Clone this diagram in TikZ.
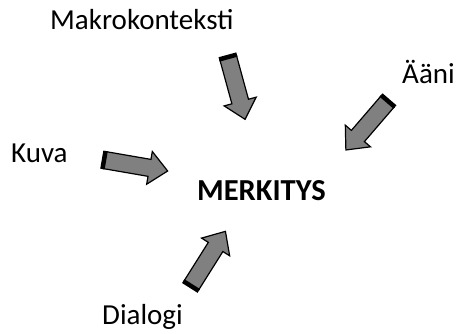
\documentclass[tikz,border=0pt]{standalone}
\usepackage{fontspec}
\setmainfont{Carlito}
\usetikzlibrary{shapes.arrows}
\begin{document}
\begin{tikzpicture}[x=1pt,y=-1pt,
  lbl/.style={inner sep=0pt, anchor=base west, font=\fontsize{29}{32}\selectfont},
  blockarrow/.style={single arrow, draw=black, line width=1.2pt, fill=gray,
    inner sep=8pt, minimum height=64pt, single arrow head extend=8pt,
    single arrow tip angle=84, anchor=tail},
  tailbar/.style={line width=4.5pt, black}]
\useasboundingbox (0,0) rectangle (462,333);
\fill[white] (0,0) rectangle (462,333);
% labels
\node[lbl] (makro) at (50,29) {Makrokonteksti};
\node[lbl] (aani) at (402,83) {Ääni};
\node[lbl] (kuva) at (11,162) {Kuva};
\node[lbl] (dialogi) at (102,324) {Dialogi};
\node[lbl, font=\fontsize{30.5}{33}\selectfont\bfseries] (merkitys) at (197,200) {MERKITYS};
% tail positions
\coordinate (t1) at (228,57);
\coordinate (t2) at (388,101);
\coordinate (t3) at (104,160);
\coordinate (t4) at (191,286);
% block arrows
\node[blockarrow, rotate=-74.7] (a1) at (t1) {};
\node[blockarrow, rotate=-130.7] (a2) at (t2) {};
\node[blockarrow, rotate=-9.8] (a3) at (t3) {};
\node[blockarrow, rotate=57.8] (a4) at (t4) {};
\foreach \a in {a1,a2,a3,a4}
  \draw[tailbar] (\a.before tail) -- (\a.after tail);
\end{tikzpicture}
\end{document}
